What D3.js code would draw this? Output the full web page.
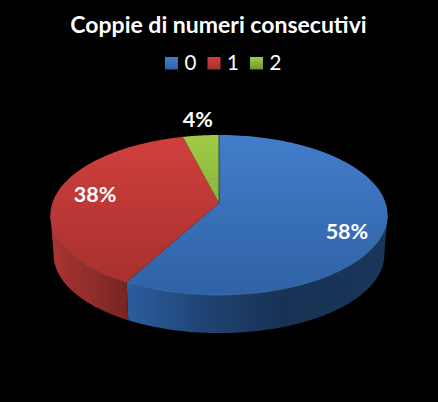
<!DOCTYPE html>
<html>
<head>
<meta charset="utf-8">
<script src="https://cdn.jsdelivr.net/npm/d3@7"></script>
<style>
  html, body { margin: 0; padding: 0; background: #000; }
  svg { display: block; }
  text { font-family: Lato, "Open Sans", sans-serif; fill: #fff; }
</style>
</head>
<body>
<div id="chart"></div>
<script>
var titleText = "Coppie di numeri consecutivi";
var categories = ["0", "1", "2"];
var shares = [58, 38, 4];
var shareLabels = ["58%", "38%", "4%"];

var svgWidth = 438;
var svgHeight = 402;

// colours per slice: top face gradient and side wall gradient
var topColors = [["#437dcb", "#2f62a5"], ["#d0403d", "#a52f2d"], ["#a0cc44", "#6f9232"]];
var wallColors = [
    [[0.0, "#2b5e9f"], [0.3, "#1f4373"], [0.6, "#173254"], [1, "#19365a"]],
    [[0.0, "#a93533"], [0.6, "#8c2c2a"], [1, "#76241f"]],
    [[0.0, "#6f9232"], [1, "#5c7a2a"]]
];

// label placement: radius fraction on the disc, then pixel nudge
var labelRadius = [0.77, 0.76, 1.2];
var labelNudge = [13, -1, -5];

var cx = 219;
var perspective = 0.15;
var topFace = { y0: 203, a: 166.6, b: 78.2 };
var bottomFace = { y0: 243, a: 163.5, b: 76.6 };

var svg = d3.select("#chart")
    .append("svg")
    .attr("width", svgWidth)
    .attr("height", svgHeight);

var defs = svg.append("defs");

// a tilted disc seen in perspective: angle 0 is up, clockwise
function project(face, angle, r) {
    var u = Math.sin(angle) * r;
    var v = Math.cos(angle) * r;
    var w = 1 + perspective * v;
    return [cx + face.a * u / w, face.y0 - face.b * v / w];
}

function arcPoints(face, a0, a1) {
    return d3.range(0, 121).map(function (i) {
        return project(face, a0 + (a1 - a0) * i / 120, 1);
    });
}

var line = d3.line();

var slices = d3.pie().sort(null)(shares);

// the wall is only visible between the two silhouette points of the disc
var wallStart = Math.acos(-perspective);
var wallEnd = 2 * Math.PI - wallStart;

slices.forEach(function (d, i) {
    var top = defs.append("linearGradient")
        .attr("id", "top" + i)
        .attr("gradientUnits", "userSpaceOnUse")
        .attr("x1", 0).attr("x2", 0).attr("y1", 135).attr("y2", 295);
    top.append("stop").attr("offset", 0).attr("stop-color", topColors[i][0]);
    top.append("stop").attr("offset", 1).attr("stop-color", topColors[i][1]);

    var x0 = i === 0 ? 127 : 51;
    var x1 = i === 0 ? 388 : 128;
    var wall = defs.append("linearGradient")
        .attr("id", "wall" + i)
        .attr("gradientUnits", "userSpaceOnUse")
        .attr("x1", x0).attr("x2", x1).attr("y1", 0).attr("y2", 0);
    wallColors[i].forEach(function (s) {
        wall.append("stop").attr("offset", s[0]).attr("stop-color", s[1]);
    });

    var key = defs.append("linearGradient")
        .attr("id", "key" + i)
        .attr("x1", 0).attr("x2", 0).attr("y1", 0).attr("y2", 1);
    key.append("stop").attr("offset", 0).attr("stop-color", topColors[i][0]);
    key.append("stop").attr("offset", 1).attr("stop-color", topColors[i][1]);
});

// side walls first, the top faces cover whatever is at the back
svg.append("g").selectAll("path")
    .data(slices.filter(function (d) { return d.startAngle < wallEnd && d.endAngle > wallStart; }))
    .enter()
    .append("path")
    .attr("fill", function (d) { return "url(#wall" + d.index + ")"; })
    .attr("d", function (d) {
        var a0 = Math.max(d.startAngle, wallStart);
        var a1 = Math.min(d.endAngle, wallEnd);
        var upper = arcPoints(topFace, a0, a1);
        var lower = arcPoints(bottomFace, a0, a1).reverse();
        return line(upper.concat(lower)) + "Z";
    });

svg.append("g").selectAll("path")
    .data(slices)
    .enter()
    .append("path")
    .attr("fill", function (d, i) { return "url(#top" + i + ")"; })
    .attr("d", function (d) {
        var pts = arcPoints(topFace, d.startAngle, d.endAngle);
        pts.unshift([cx, topFace.y0]);
        return line(pts) + "Z";
    });

// thin light rim along the front of the top face
svg.append("g").selectAll("path")
    .data(slices.slice(0, 2))
    .enter()
    .append("path")
    .attr("fill", "none")
    .attr("stroke", function (d, i) { return i === 0 ? "#5b8fd2" : "#d65a57"; })
    .attr("stroke-opacity", 0.5)
    .attr("stroke-width", 0.8)
    .attr("d", function (d, i) {
        var a0 = i === 0 ? wallStart : d.startAngle;
        var a1 = i === 0 ? d.endAngle : wallEnd;
        return line(arcPoints(topFace, a0, a1));
    });

// dark seam between first and last slice
svg.append("path")
    .attr("stroke", "#17365e")
    .attr("stroke-width", 0.8)
    .attr("d", line([[cx, topFace.y0], project(topFace, 0, 1)]));

svg.append("text")
    .attr("x", 218.5)
    .attr("y", 33)
    .attr("text-anchor", "middle")
    .attr("font-size", 23)
    .attr("font-weight", 700)
    .text(titleText);

// legend
var legendX = d3.scalePoint()
    .domain(categories)
    .range([165, 250]);

var legend = svg.append("g").selectAll("g")
    .data(categories)
    .enter()
    .append("g")
    .attr("transform", function (d) { return "translate(" + legendX(d) + ",57)"; });

legend.append("rect")
    .attr("width", 13)
    .attr("height", 12.5)
    .attr("fill", function (d, i) { return "url(#key" + i + ")"; });

legend.append("text")
    .attr("x", 19.5)
    .attr("y", 12.5)
    .attr("font-size", 20.5)
    .text(function (d) { return d; });

// data labels
svg.append("g").selectAll("text")
    .data(slices)
    .enter()
    .append("text")
    .attr("text-anchor", "middle")
    .attr("font-size", 21.5)
    .attr("font-weight", 700)
    .attr("transform", function (d, i) {
        var p = project(topFace, (d.startAngle + d.endAngle) / 2, labelRadius[i]);
        return "translate(" + p[0] + "," + (p[1] + labelNudge[i] + 7.5) + ")";
    })
    .text(function (d, i) { return shareLabels[i]; });
</script>
</body>
</html>
